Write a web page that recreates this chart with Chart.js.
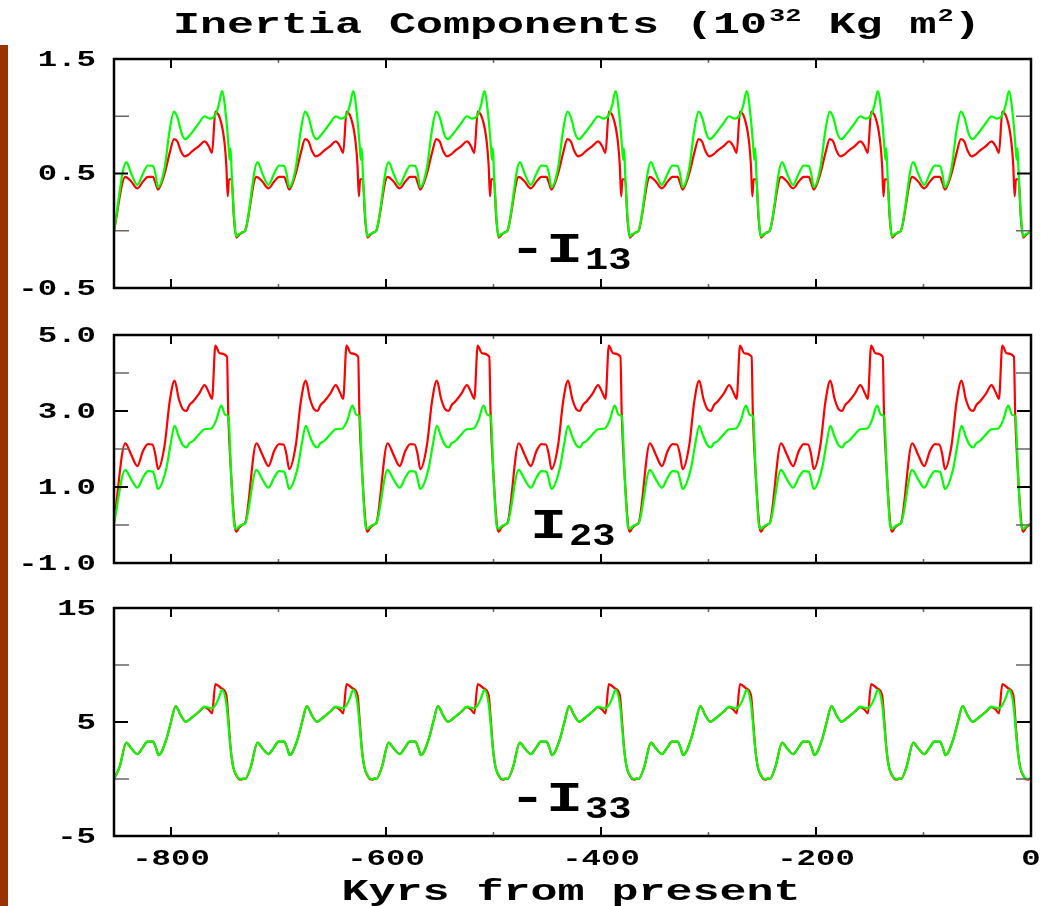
<!DOCTYPE html>
<html>
<head>
<meta charset="utf-8">
<script src="https://cdn.jsdelivr.net/npm/chart.js@4.4.0/dist/chart.umd.min.js"></script>
<style>
  html, body { margin: 0; padding: 0; background: #fff; }
  #page { position: relative; width: 1042px; height: 906px; overflow: hidden; background: #fff; }
  #edge { position: absolute; left: 0; top: 45px; width: 8px; bottom: 0; background: #993300; }
  canvas { position: absolute; left: 0; top: 0; }
</style>
</head>
<body>
<div id="page">
  <div id="edge"></div>
  <canvas id="p13" width="1042" height="906"></canvas>
  <canvas id="p23" width="1042" height="906"></canvas>
  <canvas id="p33" width="1042" height="906"></canvas>
</div>
<script>
// Time axis in kyr before present; the pattern repeats every 122 kyr
const kyrStart = -853;
const kyrEnd = 0;
const cycleLength = 122;
const xMajorTicks = [-800, -600, -400, -200, 0];
const xMinorTicks = [-700, -500, -300, -100];
const xTickLabels = ['-800', '-600', '-400', '-200', '0'];

// -I13 : phase inside one cycle (kyr) and value
const i13GreenPhase = [0, 11.5, 16, 21.7, 27, 31.6, 36.3, 38.5, 40.9, 47.1, 51.8, 55.8, 59, 63.3, 66.7, 70, 73.5, 79, 84.3, 89, 94.3, 97.5, 100.5, 104.5, 106.7, 107.6, 108.4, 109.5, 111.5, 113.8, 116, 118.4, 120.5];
const i13Green = [0.0, 0.60, 0.50, 0.40, 0.50, 0.57, 0.565, 0.50, 0.38, 0.55, 0.88, 1.04, 0.99, 0.84, 0.80, 0.83, 0.87, 0.94, 1.0, 0.98, 1.01, 1.10, 1.22, 0.97, 0.72, 0.62, 0.72, 0.50, 0.15, -0.05, -0.03, -0.02, -0.01];
const i13RedPhase = [0, 10.5, 16, 21.7, 27, 31.6, 36.3, 38.5, 40.9, 47.1, 51.8, 55.8, 59, 62, 65.7, 70, 73.5, 79, 84.3, 88, 91.2, 94.3, 99.8, 102.9, 104.5, 105.8, 107, 109.5, 111.5, 113.8, 116, 118.4, 120.5];
const i13Red = [0.0, 0.47, 0.43, 0.37, 0.43, 0.47, 0.47, 0.42, 0.36, 0.50, 0.68, 0.80, 0.78, 0.70, 0.65, 0.67, 0.70, 0.74, 0.78, 0.74, 0.68, 1.04, 0.94, 0.76, 0.57, 0.30, 0.45, 0.45, 0.12, -0.06, -0.04, -0.02, -0.01];
const i13Ticks = [-0.5, 0.5, 1.5];
const i13TickLabels = ['-0.5', '0.5', '1.5'];
const i13MinorTicks = [0, 1];

// I23
const i23GreenPhase = [0, 10.5, 16, 21.7, 27, 31.6, 36.3, 38.5, 40.9, 48.7, 52.5, 56.4, 60, 64, 67.3, 70, 73.5, 79, 84.3, 90.5, 95, 99.8, 103.5, 106.5, 109, 112.2, 113.8, 116, 118.4, 120.5];
const i23Green = [0.04, 1.45, 1.20, 0.98, 1.25, 1.42, 1.40, 1.20, 0.95, 1.49, 2.10, 2.61, 2.35, 2.10, 2.04, 2.15, 2.21, 2.38, 2.52, 2.54, 2.75, 3.14, 2.90, 2.85, 1.30, -0.05, -0.10, -0.05, 0.0, 0.02];
const i23RedPhase = [0, 10.5, 16, 21.7, 27, 31.6, 35.7, 38.5, 40.9, 47.1, 51.8, 56.4, 60.2, 64, 67.3, 70, 73.5, 79, 84.3, 88, 91.2, 94.3, 98.3, 105.1, 106.3, 109, 112.2, 113.8, 116, 118.4, 120.5];
const i23Red = [0.05, 2.15, 1.85, 1.55, 1.95, 2.13, 2.12, 1.85, 1.47, 2.10, 3.25, 3.80, 3.33, 3.05, 3.00, 3.15, 3.25, 3.45, 3.68, 3.50, 3.32, 4.72, 4.52, 4.43, 2.90, 1.30, 0.0, -0.18, -0.08, -0.02, 0.02];
const i23Ticks = [-1, 1, 3, 5];
const i23TickLabels = ['-1.0', '1.0', '3.0', '5.0'];
const i23MinorTicks = [0, 2, 4];

// -I33
const i33GreenPhase = [0, 5.3, 11.5, 16, 21.7, 27, 31, 36.3, 38.8, 41.5, 48.7, 53, 57.4, 62, 66.7, 70, 73.5, 79, 84.3, 90.5, 94.3, 97.5, 100.5, 104.5, 108.6, 111, 113.8, 116, 118.4, 120.5];
const i33Green = [0.0, 1.08, 3.19, 2.70, 2.19, 2.80, 3.27, 3.27, 2.80, 2.10, 3.48, 5.00, 6.40, 5.60, 5.03, 5.20, 5.47, 5.90, 6.34, 6.20, 6.49, 7.10, 7.81, 6.60, 2.54, 1.00, 0.35, 0.05, 0.0, 0.05];
const i33RedPhase = [0, 5.3, 11.5, 16, 21.7, 27, 31, 36.3, 38.8, 41.5, 48.7, 53, 57.4, 62, 66.7, 70, 73.5, 79, 84.3, 88, 91.2, 94.3, 99.8, 104.5, 106.7, 108.6, 111, 113.8, 116, 118.4, 120.5];
const i33Red = [0.0, 1.08, 3.19, 2.70, 2.19, 2.80, 3.27, 3.27, 2.80, 2.10, 3.48, 5.00, 6.40, 5.60, 5.03, 5.20, 5.47, 5.90, 6.30, 6.10, 5.76, 8.33, 7.96, 7.37, 4.88, 2.60, 1.00, 0.30, 0.0, -0.05, 0.05];
const i33Ticks = [-5, 5, 15];
const i33TickLabels = ['-5', '5', '15'];
const i33MinorTicks = [0, 10];

const FONT = '"Liberation Mono", "Courier New", monospace';
const STRETCH = 1.47;

// lay one cycle end to end along the time axis
function tile(phase, values) {
    const pts = [];
    for (let start = kyrStart; start < kyrEnd; start += cycleLength) {
        phase.forEach((t, i) => pts.push({ x: start + t, y: values[i] }));
    }
    return pts;
}

// wide bold courier-ish text
function wideText(ctx, text, x, y, size, align, baseline, sx) {
    sx = sx || STRETCH;
    ctx.save();
    ctx.font = 'bold ' + size + 'px ' + FONT;
    ctx.textAlign = align;
    ctx.textBaseline = baseline;
    ctx.fillStyle = '#000';
    ctx.translate(x, y);
    ctx.scale(sx, 1);
    ctx.fillText(text, 0, 0);
    const w = ctx.measureText(text).width * sx;
    ctx.restore();
    return w;
}

function line(ctx, x1, y1, x2, y2) {
    ctx.beginPath();
    ctx.moveTo(x1, y1);
    ctx.lineTo(x2, y2);
    ctx.stroke();
}

function framePlugin(p) {
    return {
        id: 'frame' + p.id,
        afterDraw(chart) {
            const ctx = chart.ctx;
            const a = chart.chartArea;
            const x = chart.scales.x;
            const y = chart.scales.y;
            ctx.save();

            // minor ticks
            ctx.strokeStyle = '#666';
            ctx.lineWidth = 1.5;
            p.yMinor.forEach(v => {
                const py = y.getPixelForValue(v);
                line(ctx, a.left, py, a.left + 15, py);
                line(ctx, a.right - 15, py, a.right, py);
            });
            xMinorTicks.forEach(v => {
                const px = x.getPixelForValue(v);
                line(ctx, px, a.bottom, px, a.bottom - 4);
                line(ctx, px, a.top, px, a.top + 4);
            });

            // major ticks
            ctx.strokeStyle = '#000';
            ctx.lineWidth = 2;
            p.yMajor.forEach(v => {
                const py = y.getPixelForValue(v);
                line(ctx, a.left, py, a.left + 14, py);
                line(ctx, a.right - 14, py, a.right, py);
            });
            xMajorTicks.forEach(v => {
                const px = x.getPixelForValue(v);
                line(ctx, px, a.bottom, px, a.bottom - 9);
                line(ctx, px, a.top, px, a.top + 9);
            });

            // border
            ctx.lineWidth = 2.5;
            ctx.strokeRect(a.left, a.top, a.right - a.left, a.bottom - a.top);
            ctx.restore();

            // y tick labels
            p.yMajor.forEach((v, i) => {
                wideText(ctx, p.yLabels[i], 96, y.getPixelForValue(v) + 1, 22, 'right', 'middle');
            });

            // component name with subscript
            const w = wideText(ctx, p.tag[0], p.tagX, p.tagY, 42, 'left', 'alphabetic');
            wideText(ctx, p.tag[1], p.tagX + w + 2, p.tagY + 7, 31, 'left', 'alphabetic', 1.25);

            if (p.showX) {
                xMajorTicks.forEach((v, i) => {
                    wideText(ctx, xTickLabels[i], x.getPixelForValue(v), 859, 22, 'center', 'middle');
                });
                wideText(ctx, 'Kyrs from present', 571, 900, 30, 'center', 'alphabetic', 1.5);

                // title with superscripts
                let tx = 173;
                tx += wideText(ctx, 'Inertia Components (10', tx, 33, 30, 'left', 'alphabetic', 1.5);
                tx += wideText(ctx, '32', tx + 2, 21, 18, 'left', 'alphabetic', 1.5) + 2;
                tx += wideText(ctx, ' Kg m', tx, 33, 30, 'left', 'alphabetic', 1.5);
                tx += wideText(ctx, '2', tx + 1, 21, 18, 'left', 'alphabetic', 1.5) + 1;
                wideText(ctx, ')', tx, 33, 30, 'left', 'alphabetic', 1.5);
            }
        }
    };
}

const panels = [
    { id: 'p13', top: 59, bottom: 288, yMin: -0.5, yMax: 1.5,
      yMajor: i13Ticks, yMinor: i13MinorTicks, yLabels: i13TickLabels,
      green: tile(i13GreenPhase, i13Green), red: tile(i13RedPhase, i13Red),
      tag: ['-I', '13'], tagX: 509, tagY: 262, showX: false },
    { id: 'p23', top: 335, bottom: 563, yMin: -1, yMax: 5,
      yMajor: i23Ticks, yMinor: i23MinorTicks, yLabels: i23TickLabels,
      green: tile(i23GreenPhase, i23Green), red: tile(i23RedPhase, i23Red),
      tag: ['I', '23'], tagX: 530, tagY: 538, showX: false },
    { id: 'p33', top: 608, bottom: 836, yMin: -5, yMax: 15,
      yMajor: i33Ticks, yMinor: i33MinorTicks, yLabels: i33TickLabels,
      green: tile(i33GreenPhase, i33Green), red: tile(i33RedPhase, i33Red),
      tag: ['-I', '33'], tagX: 509, tagY: 811, showX: true }
];

panels.forEach(p => {
    new Chart(document.getElementById(p.id), {
        type: 'line',
        data: {
            datasets: [
                { label: 'green', data: p.green, borderColor: '#00ff00', borderWidth: 2.2,
                  pointRadius: 0, fill: false, cubicInterpolationMode: 'monotone' },
                { label: 'red', data: p.red, borderColor: '#ff0000', borderWidth: 2.2,
                  pointRadius: 0, fill: false, cubicInterpolationMode: 'monotone' }
            ]
        },
        options: {
            responsive: false,
            animation: false,
            devicePixelRatio: 1,
            layout: { padding: { left: 114, right: 11, top: p.top, bottom: 906 - p.bottom } },
            plugins: { legend: { display: false }, tooltip: { enabled: false } },
            scales: {
                x: { type: 'linear', min: kyrStart, max: kyrEnd, display: false },
                y: { type: 'linear', min: p.yMin, max: p.yMax, display: false }
            }
        },
        plugins: [framePlugin(p)]
    });
});
</script>
</body>
</html>
